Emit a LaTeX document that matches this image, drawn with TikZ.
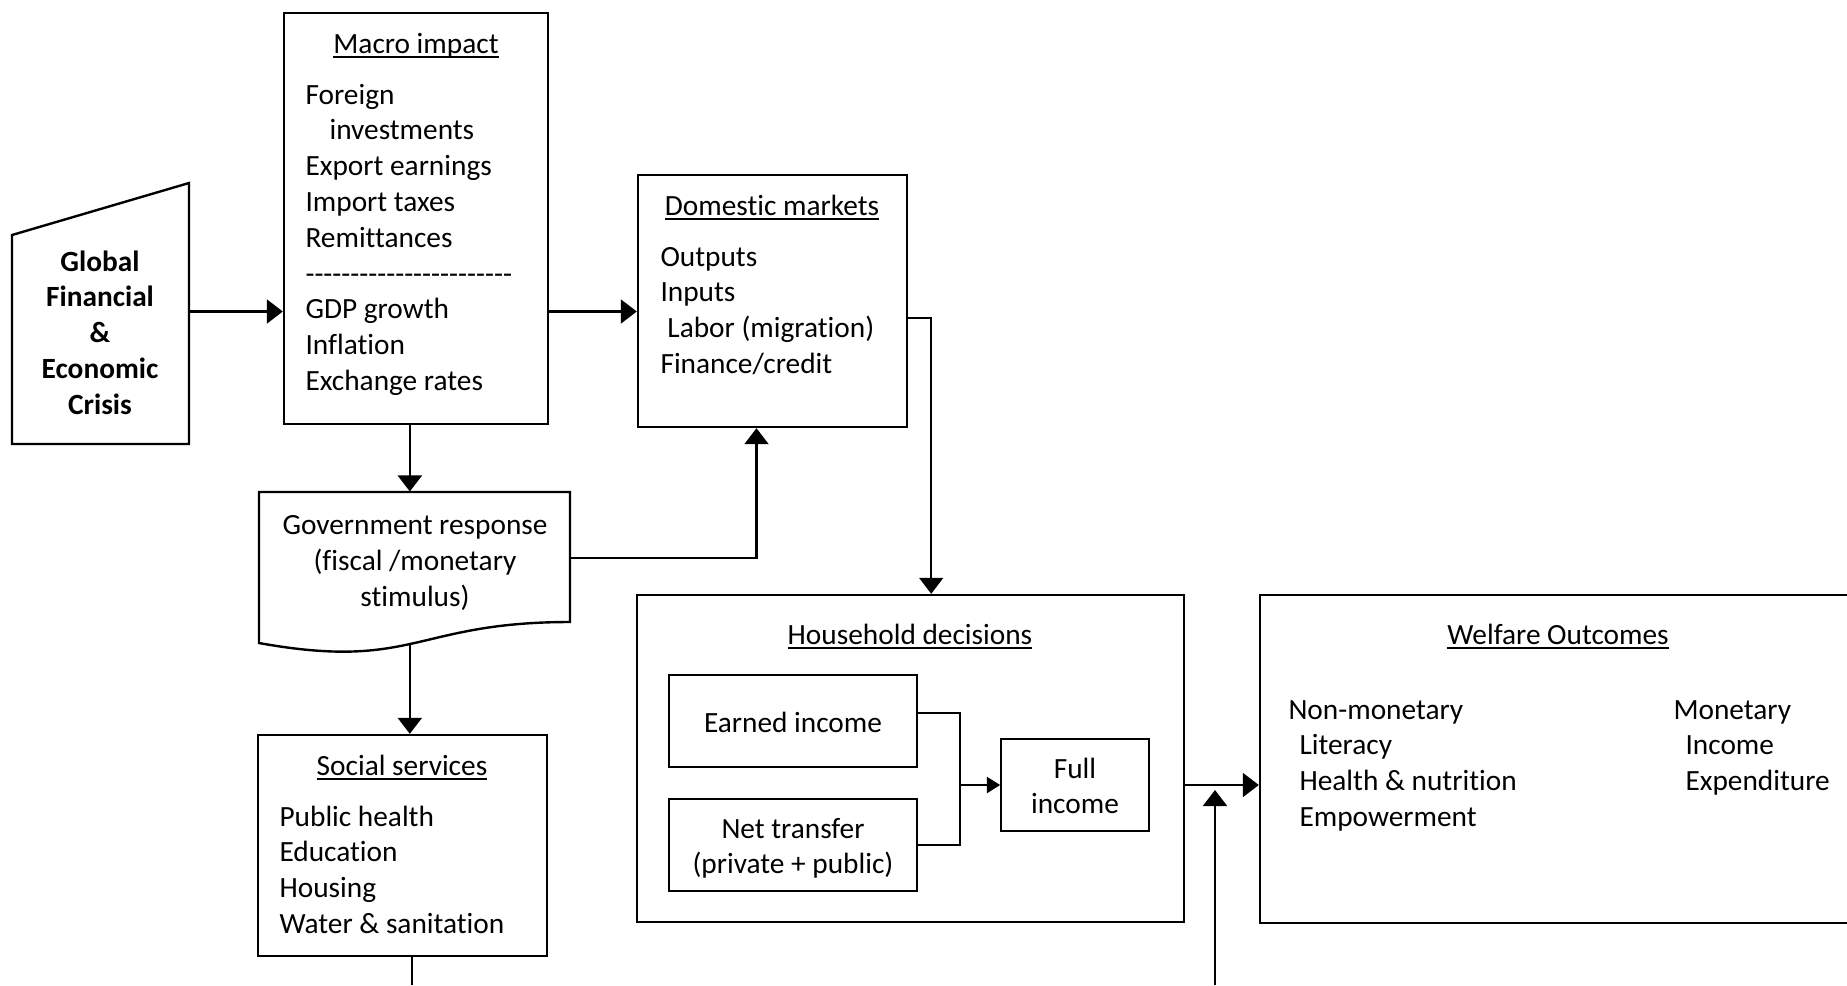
\documentclass[tikz,border=0pt]{standalone}
\usepackage{fontspec}
\setmainfont{Carlito}[Ligatures=NoCommon]
\usetikzlibrary{arrows.meta,fit,calc}
\newcommand{\wordul}[1]{\setbox0=\hbox{#1}\makebox[0pt][l]{\rule[-1.8pt]{\wd0}{0.55pt}}\box0}
\newcommand{\hyph}{\mbox{-}}
\newcommand{\dashrow}{\hyph\hyph\hyph\hyph\hyph\hyph\hyph\hyph\hyph\hyph\hyph\hyph\hyph\hyph\hyph\hyph\hyph\hyph\hyph\hyph\hyph\hyph\hyph}
\begin{document}
\begin{tikzpicture}[x=0.375pt, y=-0.375pt,
  every node/.style={font=\fontsize{11}{13.43}\selectfont, inner sep=0pt},
  boldtxt/.style={font=\fontsize{11}{13.43}\selectfont\bfseries},
  box/.style={draw, line width=0.9pt},
  ibox/.style={draw, line width=0.6pt},
  ln/.style={anchor=base west},
  cl/.style={anchor=base},
  arr/.style={line width=0.8pt, -{Triangle[length=6pt,width=9pt]}},
  sarr/.style={line width=0.8pt, -{Triangle[length=5pt,width=6pt]}},
  con/.style={line width=0.8pt}]
\useasboundingbox (0,0) rectangle (1847,985);
\clip (0,0) rectangle (1847,985);

% Global crisis (manual input shape)
\node[fit={(12,183)(189,440)}, inner sep=0pt] (gfec) {};
\draw[box] (12,235) -- (189,183) -- (189,444) -- (12,444) -- cycle;
\foreach \t [count=\i from 0] in {Global,Financial,\&,Economic,Crisis}
  \node[cl, boldtxt, name=g\i] at (100,{271+35.8*\i}) {\t};

% Macro impact
\node[box, fit={(284,13)(548,424)}, inner sep=0pt] (macro) {};
\node[cl] (macroT) at (416,53) {\wordul{Macro impact}};
\foreach \t [count=\i from 0] in {Foreign,\hspace{9pt}investments,Export earnings,Import taxes,Remittances,\dashrow,GDP growth,Inflation,Exchange rates}
  \node[ln, name=m\i] at (305,{104+35.8*\i}) {\t};

% Domestic markets
\node[box, fit={(638,175)(907,427)}, inner sep=0pt] (dom) {};
\node[cl] (domT) at (772,215) {\wordul{Domestic markets}};
\foreach \t [count=\i from 0] in {Outputs,Inputs,\hspace{2.6pt}Labor (migration),Finance/credit}
  \node[ln, name=d\i] at (660,{266+35.8*\i}) {\t};

% Government response (document shape)
\node[fit={(259,492)(570,653)}, inner sep=0pt] (gov) {};
\draw[box] (259,492) -- (570,492) -- (570,622)
  .. controls (414.5,622) and (414.5,671) .. coordinate[pos=0.52] (wave) (259,643) -- cycle;
\foreach \t [count=\i from 0] in {{Government response},{(fiscal /monetary},{stimulus)}}
  \node[cl, name=r\i] at (415,{534.5+35.8*\i}) {\t};

% Social services
\node[box, fit={(258,735)(547,956)}, inner sep=0pt] (soc) {};
\node[cl] (socT) at (402,775) {\wordul{Social services}};
\foreach \t [count=\i from 0] in {Public health,Education,Housing,Water \& sanitation}
  \node[ln, name=s\i] at (279,{826+35.8*\i}) {\t};

% Household decisions
\node[box, fit={(637,595)(1184,922)}, inner sep=0pt] (hh) {};
\node[cl] (hhT) at (910,644) {\wordul{Household decisions}};
\node[ibox, fit={(669,675)(917,767)}, inner sep=0pt] (earn) {};
\node[cl] (earnT) at (793,732) {Earned income};
\node[ibox, fit={(669,799)(917,891)}, inner sep=0pt] (net) {};
\node[cl] (netT1) at (793,838) {Net transfer};
\node[cl] (netT2) at (793,873.8) {(private + public)};
\node[ibox, fit={(1001,739)(1149,831)}, inner sep=0pt] (full) {};
\node[cl] (fullT1) at (1075,778) {Full};
\node[cl] (fullT2) at (1075,813.8) {income};

% Welfare outcomes
\node[box, fit={(1260,595)(1856,923)}, inner sep=0pt] (wel) {};
\node[cl] (welT) at (1558,644) {\wordul{Welfare Outcomes}};
\node[ln] (w0) at (1288,719) {Non-monetary};
\foreach \t [count=\i from 1] in {Literacy,Health \& nutrition,Empowerment}
  \node[ln, name=w\i] at (1299,{719+35.8*\i}) {\t};
\node[ln] (v0) at (1673,719) {Monetary};
\foreach \t [count=\i from 1] in {Income,Expenditure}
  \node[ln, name=v\i] at (1685,{719+35.8*\i}) {\t};

% Connectors
\draw[arr] (gfec.east) -- (gfec.east -| macro.west);
\draw[arr] (macro.east |- gfec.east) -- (dom.west |- gfec.east);
\draw[arr, line width=0.6pt] ($(dom.east)+(0,17)$) -- ++(23,0) coordinate (dk) -- (dk |- hh.north);
\draw[arr] (macro.south -| wave) -- (gov.north -| wave);
\draw[arr] ($(gov.east)+(0,-14.5)$) -| ($(dom.south)+(-16,0)$);
\draw[arr] (wave) -- (wave |- soc.north);
\coordinate (socend) at (412,985);
\draw[con] (soc.south -| socend) -- (socend);
\draw[con] ($(earn.east)+(0,-8)$) -- ++(42,0) coordinate (bk) -- (bk |- net.east) -- (net.east);
\draw[sarr] (bk |- full.west) -- (full.west);
\draw[arr] (hh.east |- full.west) -- (wel.west |- full.west);
\coordinate (upend) at (1215,985);
\draw[arr] (upend) -- ($(upend |- full.west)+(0,5)$);
\end{tikzpicture}
\end{document}
